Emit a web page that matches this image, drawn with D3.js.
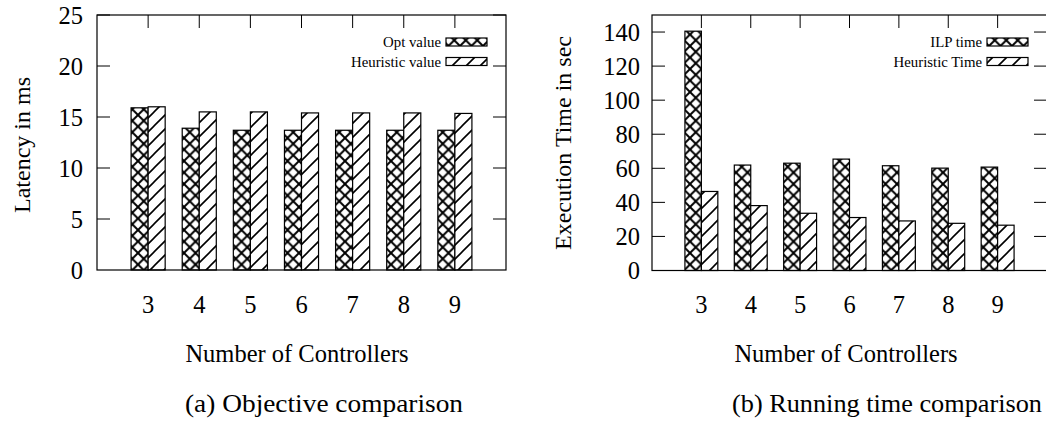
<!DOCTYPE html>
<html>
<head>
<meta charset="utf-8">
<script src="https://cdn.jsdelivr.net/npm/d3@7"></script>
<style>
  body { margin: 0; background: #fff; }
</style>
</head>
<body>
<script>
// chart data
var categories = [3, 4, 5, 6, 7, 8, 9];
var optValue = [15.9, 13.9, 13.7, 13.7, 13.7, 13.7, 13.7];
var heuristicValue = [16.0, 15.5, 15.5, 15.4, 15.4, 15.4, 15.35];
var ilpTime = [140.5, 61.9, 63.0, 65.4, 61.5, 60.1, 60.7];
var heuristicTime = [46.4, 38.1, 33.6, 31.1, 29.1, 27.7, 26.6];
var latencyTicks = [0, 5, 10, 15, 20, 25];
var timeTicks = [0, 20, 40, 60, 80, 100, 120, 140];

var w = 1046;
var h = 431;
var serif = "'Liberation Serif', 'DejaVu Serif', serif";

var svg = d3.select("body")
    .append("svg")
    .attr("width", w)
    .attr("height", h)
    .style("font-family", serif);

var defs = svg.append("defs");

// crosshatch pattern
var cross = defs.append("pattern")
    .attr("id", "cross")
    .attr("patternUnits", "userSpaceOnUse")
    .attr("width", 11.5)
    .attr("height", 11.5);
cross.append("rect").attr("width", 11.5).attr("height", 11.5).attr("fill", "#fff");
cross.append("path")
    .attr("d", "M0,0L11.5,11.5M0,11.5L11.5,0")
    .attr("stroke", "#000")
    .attr("stroke-width", 2);

// diagonal pattern
var diag = defs.append("pattern")
    .attr("id", "diag")
    .attr("patternUnits", "userSpaceOnUse")
    .attr("width", 14)
    .attr("height", 14);
diag.append("rect").attr("width", 14).attr("height", 14).attr("fill", "#fff");
diag.append("path")
    .attr("d", "M0,14L14,0M-3.5,3.5L3.5,-3.5M10.5,17.5L17.5,10.5")
    .attr("stroke", "#000")
    .attr("stroke-width", 1.6);

function drawPanel(opt) {
  var x = d3.scaleLinear().domain([2, 10]).range(opt.xRange);
  var y = d3.scaleLinear().domain(opt.yDomain).range(opt.yRange);
  var g = svg.append("g");
  var x0 = opt.xRange[0], x1 = opt.xRange[1];
  var yb = opt.yRange[0], yt = opt.yRange[1];
  var tl = 13;

  // inward ticks on all four sides
  opt.yTicks.forEach(function(t) {
    if (t === opt.yDomain[0]) return;
    g.append("line").attr("x1", x0).attr("x2", x0 + tl).attr("y1", y(t)).attr("y2", y(t)).attr("stroke", "#000");
    g.append("line").attr("x1", x1).attr("x2", x1 - tl).attr("y1", y(t)).attr("y2", y(t)).attr("stroke", "#000");
  });
  categories.forEach(function(c) {
    g.append("line").attr("x1", x(c)).attr("x2", x(c)).attr("y1", yt).attr("y2", yt + tl).attr("stroke", "#000");
    g.append("line").attr("x1", x(c)).attr("x2", x(c)).attr("y1", yb).attr("y2", yb - tl).attr("stroke", "#000");
  });

  // bars
  var bw = 1 / 3;
  g.selectAll(".bar-a")
    .data(categories)
    .enter()
    .append("rect")
    .attr("x", function(d) { return x(d - bw); })
    .attr("width", function(d) { return x(d) - x(d - bw); })
    .attr("y", function(d, i) { return y(opt.seriesA[i]); })
    .attr("height", function(d, i) { return yb - y(opt.seriesA[i]); })
    .attr("fill", "url(#cross)")
    .attr("stroke", "#000")
    .attr("stroke-width", 1.2);
  g.selectAll(".bar-b")
    .data(categories)
    .enter()
    .append("rect")
    .attr("x", function(d) { return x(d); })
    .attr("width", function(d) { return x(d + bw) - x(d); })
    .attr("y", function(d, i) { return y(opt.seriesB[i]); })
    .attr("height", function(d, i) { return yb - y(opt.seriesB[i]); })
    .attr("fill", "url(#diag)")
    .attr("stroke", "#000")
    .attr("stroke-width", 1.2);

  // frame
  g.append("rect")
    .attr("x", x0).attr("y", yt)
    .attr("width", x1 - x0).attr("height", yb - yt)
    .attr("fill", "none").attr("stroke", "#000").attr("stroke-width", 1.2);

  // tick labels
  g.selectAll(".ylab")
    .data(opt.yTicks)
    .enter()
    .append("text")
    .attr("x", x0 - opt.labelGap)
    .attr("y", function(d) { return y(d); })
    .attr("dy", "0.35em")
    .attr("text-anchor", "end")
    .attr("font-size", 24.5)
    .text(function(d) { return d; });
  g.selectAll(".xlab")
    .data(categories)
    .enter()
    .append("text")
    .attr("x", function(d) { return x(d); })
    .attr("y", 313)
    .attr("text-anchor", "middle")
    .attr("font-size", 24.5)
    .text(function(d) { return d; });

  // axis titles
  g.append("text")
    .attr("transform", "translate(" + opt.yTitleX + "," + opt.yTitleY + ") rotate(-90)")
    .attr("dy", "0.35em")
    .attr("text-anchor", "middle")
    .attr("font-size", 24)
    .text(opt.yTitle);
  g.append("text")
    .attr("x", opt.xTitleX)
    .attr("y", 362)
    .attr("text-anchor", "middle")
    .attr("font-size", 24.5)
    .text("Number of Controllers");

  // caption
  g.append("text")
    .attr("x", opt.capX)
    .attr("y", 412)
    .attr("text-anchor", "middle")
    .attr("font-size", 26)
    .attr("textLength", opt.capLen)
    .attr("lengthAdjust", "spacingAndGlyphs")
    .text(opt.caption);

  // legend
  var keyRight = x1 - 19;
  var keys = [
    { label: opt.keyA, fill: "url(#cross)", cy: 42 },
    { label: opt.keyB, fill: "url(#diag)", cy: 61.5 }
  ];
  keys.forEach(function(k) {
    g.append("rect")
      .attr("x", keyRight - 41).attr("y", k.cy - 4)
      .attr("width", 41).attr("height", 8)
      .attr("fill", k.fill).attr("stroke", "#000").attr("stroke-width", 1.2);
    g.append("text")
      .attr("x", keyRight - 46)
      .attr("y", k.cy)
      .attr("dy", "0.35em")
      .attr("text-anchor", "end")
      .attr("font-size", 14.8)
      .text(k.label);
  });
}

drawPanel({
  xRange: [97, 506],
  yDomain: [0, 25],
  yRange: [270, 15],
  yTicks: latencyTicks,
  seriesA: optValue,
  seriesB: heuristicValue,
  labelGap: 14,
  yTitle: "Latency in ms",
  yTitleX: 22, yTitleY: 145,
  xTitleX: 297,
  caption: "(a) Objective comparison",
  capX: 324, capLen: 278,
  keyA: "Opt value",
  keyB: "Heuristic value"
});

drawPanel({
  xRange: [652, 1047],
  yDomain: [0, 150],
  yRange: [270.5, 15],
  yTicks: timeTicks,
  seriesA: ilpTime,
  seriesB: heuristicTime,
  labelGap: 12,
  yTitle: "Execution Time in sec",
  yTitleX: 563, yTitleY: 143,
  xTitleX: 846,
  caption: "(b) Running time comparison",
  capX: 887, capLen: 310,
  keyA: "ILP time",
  keyB: "Heuristic Time"
});
</script>
</body>
</html>
